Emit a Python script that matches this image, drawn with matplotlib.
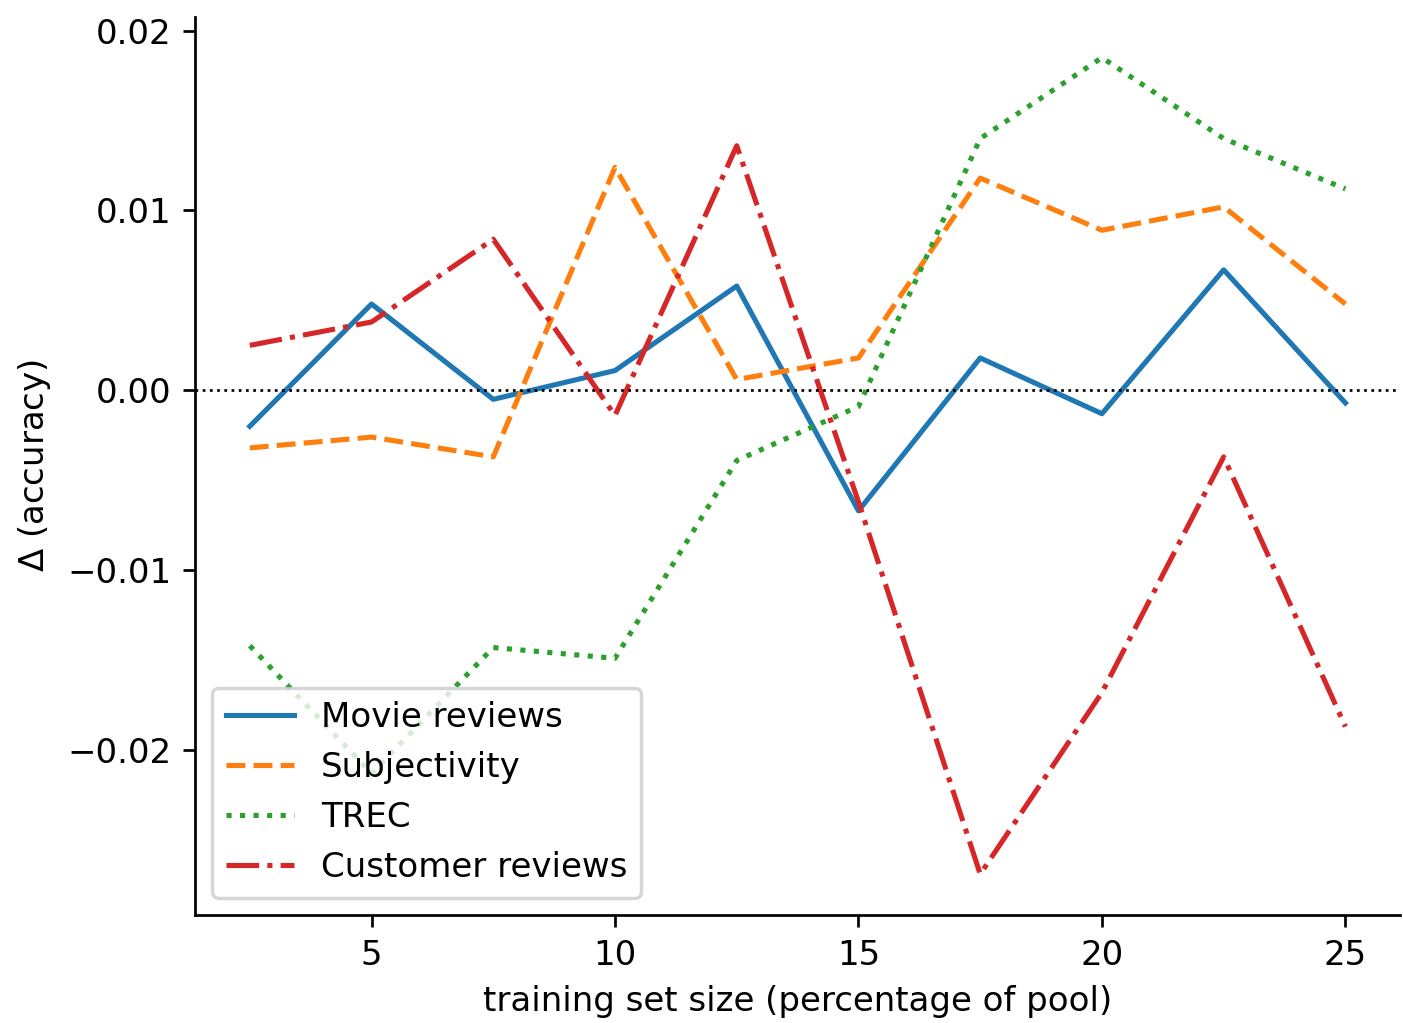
import matplotlib
matplotlib.use('Agg')
import matplotlib.pyplot as plt

# training set sizes (percentage of pool)
sizes = [2.5, 5, 7.5, 10, 12.5, 15, 17.5, 20, 22.5, 25]

# accuracy differences per dataset
movie = [-0.0020, 0.0048, -0.0005, 0.0011, 0.0058, -0.0067, 0.0018, -0.0013, 0.0067, -0.0007]
subj = [-0.0032, -0.0026, -0.0037, 0.0124, 0.0006, 0.0018, 0.0118, 0.0089, 0.0102, 0.0048]
trec = [-0.0142, -0.0213, -0.0143, -0.0149, -0.0039, -0.0009, 0.0140, 0.0185, 0.0140, 0.0112]
customer = [0.0025, 0.0038, 0.0084, -0.0014, 0.0136, -0.0062, -0.0269, -0.0168, -0.0037, -0.0187]

DPI = 245
fig = plt.figure(figsize=(1403/DPI, 1023/DPI), dpi=DPI)
ax = fig.add_axes([0.139, 0.1056, 0.859, 0.878])

ax.plot(sizes, movie, '-', color='tab:blue', label='Movie reviews')
ax.plot(sizes, subj, '--', color='tab:orange', label='Subjectivity')
ax.plot(sizes, trec, ':', color='tab:green', label='TREC')
ax.plot(sizes, customer, '-.', color='tab:red', label='Customer reviews')
ax.axhline(0, color='k', linestyle=':', linewidth=0.8)

ax.set_xticks([5, 10, 15, 20, 25])
ax.set_yticks([-0.02, -0.01, 0.0, 0.01, 0.02])
ax.set_xlabel('training set size (percentage of pool)')
ax.set_ylabel('$\\Delta$ (accuracy)')
ax.spines['top'].set_visible(False)
ax.spines['right'].set_visible(False)
ax.legend(loc='lower left')

fig.savefig('out.png', dpi=DPI)
